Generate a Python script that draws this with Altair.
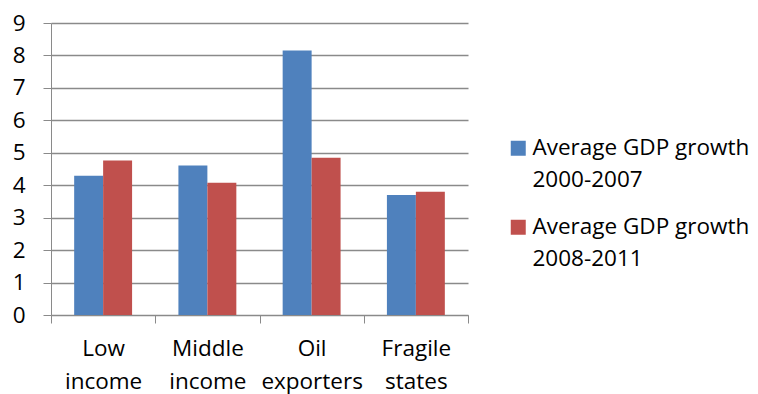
import altair as alt
import pandas as pd

# Average GDP growth (%) by country group
regions = ["Low income", "Middle income", "Oil exporters", "Fragile states"]
series = ["Average GDP growth\n2000-2007", "Average GDP growth\n2008-2011"]
growth_2000_2007 = [4.29, 4.61, 8.15, 3.70]
growth_2008_2011 = [4.76, 4.08, 4.85, 3.80]
colors = ["#4F81BD", "#C0504D"]

rows = []
for i, r in enumerate(regions):
    rows.append({"region": r, "series": series[0], "growth": growth_2000_2007[i]})
    rows.append({"region": r, "series": series[1], "growth": growth_2008_2011[i]})
df = pd.DataFrame(rows)

FONT = "Open Sans"
GRID = "#8a8a8a"
FS = 22.5

chart = (
    alt.Chart(df)
    .mark_bar()
    .encode(
        x=alt.X(
            "region:N",
            sort=regions,
            title=None,
            scale=alt.Scale(paddingInner=0, paddingOuter=0),
            axis=alt.Axis(
                tickBand="extent",
                labelAngle=0,
                labelExpr="split(datum.label, ' ')",
                labelFont=FONT,
                labelFontSize=FS,
                labelColor="#000000",
                labelLineHeight=33,
                labelPadding=14,
                tickSize=8,
                tickColor=GRID,
                domainColor=GRID,
                labelBaseline="top",
            ),
        ),
        xOffset=alt.XOffset(
            "series:N", sort=series, scale=alt.Scale(paddingInner=0, paddingOuter=0.8)
        ),
        y=alt.Y(
            "growth:Q",
            title=None,
            scale=alt.Scale(domain=[0, 9], nice=False),
            axis=alt.Axis(
                values=list(range(10)),
                grid=True,
                gridColor=GRID,
                gridWidth=1.5,
                gridOpacity=1,
                tickSize=8,
                tickColor=GRID,
                domainColor=GRID,
                labelFont=FONT,
                labelFontSize=FS,
                labelColor="#000000",
                labelPadding=18,
            ),
        ),
        color=alt.Color(
            "series:N",
            sort=series,
            scale=alt.Scale(domain=series, range=colors),
            legend=alt.Legend(
                title=None,
                orient="none",
                legendX=456,
                legendY=114,
                symbolType="square",
                symbolSize=225,
                symbolStrokeWidth=0,
                labelExpr="split(datum.label, '\\n')",
                labelFont=FONT,
                labelFontSize=FS,
                labelColor="#000000",
                labelLimit=400,
                labelOffset=3,
                rowPadding=24,
            ),
        ),
    )
    .properties(
        width=417,
        height=292,
        autosize=alt.AutoSizeParams(type="none"),
        padding={"left": 51, "top": 23, "right": 290, "bottom": 79},
    )
    .configure(style={"guide-label": {"lineHeight": 32}})
    .configure_view(stroke=None)
)

chart.save("out.html", embed_options={"renderer": "svg", "actions": False})
